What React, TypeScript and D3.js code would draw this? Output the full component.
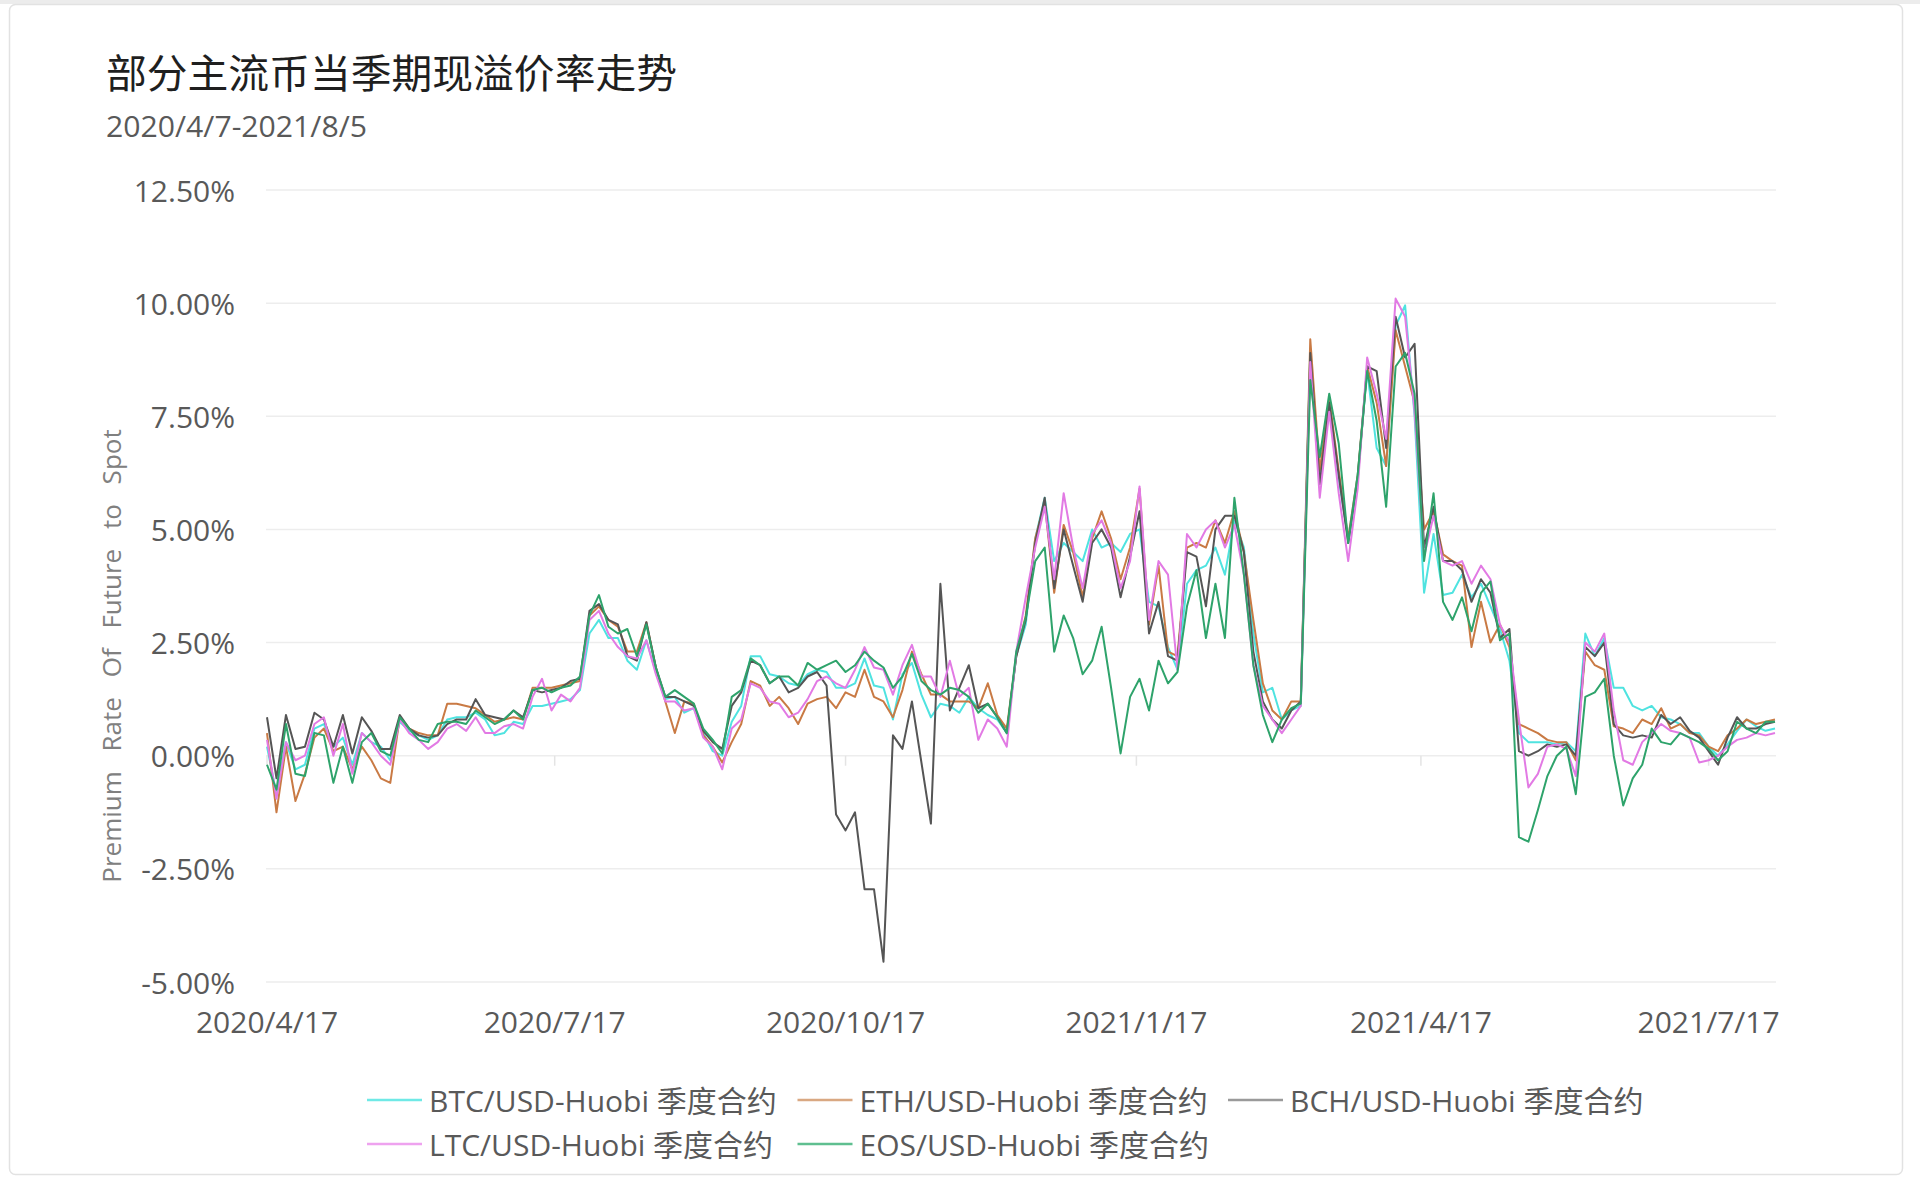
import React from "react";
import * as d3 from "d3";

const TITLE = "部分主流币当季期现溢价率走势";
const SUBTITLE = "2020/4/7-2021/8/5";
const Y_TITLE = "Premium Rate Of Future to Spot";
const START = new Date(2020, 3, 17);
const END = new Date(2021, 7, 7);
const STEP_DAYS = 3;

const yTicks = [-5, -2.5, 0, 2.5, 5, 7.5, 10, 12.5];
const xTickLabels = ["2020/4/17", "2020/7/17", "2020/10/17", "2021/1/17", "2021/4/17", "2021/7/17"];

const seriesNames = [
  "BTC/USD-Huobi 季度合约",
  "ETH/USD-Huobi 季度合约",
  "BCH/USD-Huobi 季度合约",
  "LTC/USD-Huobi 季度合约",
  "EOS/USD-Huobi 季度合约",
];
const seriesColors = ["#4fe3e0", "#c97a44", "#555555", "#e27ae4", "#2ea36b"];
const legendColors = ["#6fe9e6", "#d9a882", "#9a9a9a", "#eea2ef", "#5fbf90"];

// premium rate (%) sampled every 3 days from 2020/4/17
const btc = [
  0.2, -0.85, 0.3, -0.3, -0.2, 0.6, 0.7, 0.2, 0.4, -0.2,
  0.5, 0.3, 0.2, -0.1, 0.75, 0.55, 0.45, 0.35, 0.45, 0.8,
  0.85, 0.85, 0.95, 0.8, 0.45, 0.5, 0.75, 0.7, 1.1, 1.1,
  1.15, 1.2, 1.25, 1.45, 2.7, 3.0, 2.6, 2.6, 2.1, 1.9,
  2.55, 1.85, 1.25, 1.3, 0.95, 1.05, 0.5, 0.1, 0.0, 0.75,
  1.1, 2.2, 2.2, 1.8, 1.75, 1.6, 1.55, 1.8, 1.9, 1.85,
  1.5, 1.5, 1.6, 2.15, 1.55, 1.5, 0.8, 1.8, 2.05, 1.35,
  0.85, 1.15, 1.1, 0.95, 1.3, 1.05, 0.9, 0.8, 0.5, 2.2,
  2.9, 4.8, 5.7, 4.3, 4.7, 4.5, 4.3, 5.0, 4.6, 4.7,
  4.5, 4.9, 5.0, 3.4, 3.3, 2.4, 1.9, 3.8, 4.1, 4.2,
  4.6, 4.0, 5.2, 4.6, 2.7, 1.4, 1.5, 0.8, 1.0, 1.1,
  9.0, 6.1, 7.7, 6.1, 4.8, 6.2, 8.5, 6.8, 6.4, 9.5,
  9.95, 7.5, 3.6, 4.9, 3.55, 3.6, 4.0, 3.5, 3.8, 3.3,
  2.8, 2.1, 0.5, 0.3, 0.3, 0.3, 0.25, 0.3, 0.1, 2.7,
  2.2, 2.6, 1.5, 1.5, 1.1, 1.0, 1.1, 0.85, 0.8, 0.7,
  0.5, 0.5, 0.2, 0.0, 0.25, 0.55, 0.8, 0.65, 0.55, 0.6,
];
const eth = [
  0.5, -1.25, 0.2, -1.0, -0.4, 0.4, 0.6, 0.1, 0.2, -0.3,
  0.2, -0.1, -0.5, -0.6, 0.85, 0.6, 0.5, 0.45, 0.45, 1.15,
  1.15, 1.1, 1.05, 0.9, 0.75, 0.8, 0.85, 0.8, 1.5, 1.5,
  1.5, 1.55, 1.6, 1.65, 3.1, 3.3, 3.0, 2.85, 2.3, 2.3,
  2.95, 1.95, 1.2, 0.5, 1.2, 1.15, 0.45, 0.2, -0.15, 0.3,
  0.7, 1.65, 1.55, 1.1, 1.3, 1.05, 0.7, 1.15, 1.25, 1.3,
  1.05, 1.4, 1.3, 1.9, 1.3, 1.2, 0.85, 1.45, 2.3, 1.8,
  1.35, 1.35, 1.2, 1.2, 1.2, 1.05, 1.6, 0.9, 0.6, 2.2,
  3.1, 4.8, 5.6, 3.6, 5.1, 4.5, 3.5, 4.8, 5.4, 4.8,
  3.9, 4.6, 5.9, 2.9, 4.2, 2.3, 2.2, 4.6, 4.7, 4.6,
  5.2, 4.7, 5.4, 4.5, 3.0, 1.6, 1.0, 0.8, 1.2, 1.2,
  9.2, 6.3, 7.9, 6.3, 4.8, 6.2, 8.6, 7.8, 6.4, 9.4,
  8.6, 7.8, 5.0, 5.4, 4.45, 4.3, 4.2, 2.4, 3.4, 2.5,
  2.9, 2.4, 0.7, 0.6, 0.5, 0.35, 0.3, 0.3, -0.1, 2.3,
  2.0, 1.9, 0.65, 0.6, 0.5, 0.8, 0.7, 1.05, 0.6, 0.7,
  0.5, 0.45, 0.2, 0.1, 0.45, 0.6, 0.8, 0.7, 0.75, 0.8,
];
const bch = [
  0.85, -0.5, 0.9, 0.15, 0.2, 0.95, 0.8, 0.2, 0.9, 0.05,
  0.85, 0.55, 0.15, 0.15, 0.9, 0.6, 0.45, 0.4, 0.45, 0.7,
  0.8, 0.8, 1.25, 0.9, 0.85, 0.8, 1.0, 0.85, 1.45, 1.4,
  1.45, 1.5, 1.65, 1.7, 3.2, 3.35, 3.0, 2.9, 2.2, 2.1,
  2.95, 1.95, 1.3, 1.3, 1.2, 1.1, 0.55, 0.3, 0.15, 1.1,
  1.4, 2.1, 2.0, 1.6, 1.75, 1.4, 1.5, 1.75, 1.85, 1.55,
  -1.3, -1.65, -1.25, -2.95, -2.95, -4.55, 0.45, 0.15, 1.2, -0.15,
  -1.5, 3.8, 1.0, 1.5, 2.0, 1.05, 1.15, 0.85, 0.5, 2.2,
  3.0, 4.7, 5.7, 3.7, 5.0, 4.2, 3.4, 4.7, 5.0, 4.6,
  3.5, 4.4, 5.4, 2.7, 3.4, 2.2, 2.1, 4.5, 4.4, 3.3,
  5.0, 5.3, 5.3, 4.5, 2.3, 1.2, 0.8, 0.6, 1.0, 1.2,
  8.9, 6.0, 7.8, 6.2, 4.7, 6.1, 8.6, 8.5, 6.8, 9.7,
  8.8, 9.1, 4.6, 5.5, 4.3, 4.3, 4.1, 3.4, 3.9, 3.6,
  2.6, 2.8, 0.1, 0.0, 0.1, 0.25, 0.2, 0.25, 0.0, 2.4,
  2.2, 2.5, 0.7, 0.45, 0.4, 0.45, 0.4, 0.9, 0.7, 0.85,
  0.55, 0.4, 0.1, -0.2, 0.4, 0.85, 0.6, 0.6, 0.7, 0.75,
];
const ltc = [
  0.35, -0.95, 0.3, -0.1, 0.0, 0.7, 0.85, 0.0, 0.7, -0.4,
  0.5, 0.3, 0.0, -0.2, 0.8, 0.5, 0.35, 0.15, 0.3, 0.6,
  0.7, 0.55, 0.85, 0.5, 0.5, 0.65, 0.7, 0.6, 1.3, 1.7,
  1.0, 1.35, 1.2, 1.5, 3.0, 3.2, 2.7, 2.4, 2.2, 2.15,
  2.55, 1.8, 1.2, 1.2, 1.0, 1.05, 0.4, 0.2, -0.3, 0.6,
  0.8, 1.6, 1.5, 1.2, 1.15, 0.85, 0.95, 1.25, 1.65, 1.75,
  1.6, 1.5, 1.9, 2.4, 1.95, 1.9, 1.35, 2.0, 2.45, 1.75,
  1.75, 1.3, 2.1, 1.3, 1.5, 0.35, 0.8, 0.6, 0.2, 2.3,
  3.5, 4.6, 5.5, 3.9, 5.8, 4.6, 3.7, 4.9, 5.2, 4.7,
  3.7, 4.3, 5.95, 3.0, 4.3, 4.0, 1.9, 4.9, 4.6, 5.0,
  5.2, 4.6, 5.1, 4.0, 2.0, 1.1, 0.8, 0.5, 0.8, 1.1,
  8.7, 5.7, 7.6, 5.8, 4.3, 5.9, 8.8, 8.0, 7.0, 10.1,
  9.7, 7.6, 4.4, 5.3, 4.3, 4.2, 4.3, 3.8, 4.2, 3.9,
  2.9, 2.5, 0.8, -0.7, -0.4, 0.2, 0.25, 0.15, -0.45, 2.5,
  2.3, 2.7, 1.0, -0.1, -0.2, 0.3, 0.5, 0.7, 0.55, 0.5,
  0.4, -0.15, -0.1, 0.0, 0.2, 0.35, 0.4, 0.5, 0.45, 0.5,
];
const eos = [
  -0.2, -0.75, 0.7, -0.4, -0.45, 0.5, 0.45, -0.6, 0.2, -0.6,
  0.3, 0.5, 0.1, 0.0, 0.85, 0.6, 0.35, 0.3, 0.7, 0.75,
  0.75, 0.7, 1.0, 0.85, 0.7, 0.8, 1.0, 0.8, 1.45, 1.5,
  1.4, 1.5, 1.55, 1.75, 3.1, 3.55, 2.85, 2.7, 2.8, 2.2,
  2.9, 1.95, 1.3, 1.45, 1.3, 1.15, 0.6, 0.35, 0.05, 1.3,
  1.45, 2.15, 2.0, 1.6, 1.75, 1.75, 1.55, 2.05, 1.9, 2.0,
  2.1, 1.85, 2.0, 2.3, 2.1, 1.95, 1.5, 1.75, 2.25, 1.65,
  1.45, 1.35, 1.5, 1.45, 1.3, 0.95, 1.15, 0.85, 0.5, 2.3,
  3.05, 4.3, 4.6, 2.3, 3.1, 2.6, 1.8, 2.1, 2.85, 1.5,
  0.05, 1.3, 1.7, 1.0, 2.1, 1.6, 1.85, 3.3, 4.1, 2.6,
  3.8, 2.6, 5.7, 4.0, 2.0, 0.9, 0.3, 0.8, 1.05, 1.15,
  8.3, 6.6, 8.0, 6.9, 4.7, 6.2, 8.5, 7.4, 5.5, 8.6,
  8.9, 8.0, 4.3, 5.8, 3.4, 3.0, 3.5, 2.75, 3.6, 3.85,
  2.55, 2.7, -1.8, -1.9, -1.2, -0.45, 0.0, 0.2, -0.85, 1.3,
  1.4, 1.7, 0.0, -1.1, -0.5, -0.2, 0.6, 0.3, 0.25, 0.5,
  0.4, 0.3, 0.15, -0.1, 0.1, 0.75, 0.6, 0.5, 0.75, 0.75,
];

const allSeries = [btc, eth, bch, ltc, eos];

const LATIN = "'Open Sans', 'Noto Sans', 'Noto Sans CJK SC', sans-serif";
const CJK = "'Noto Sans CJK SC', 'Open Sans', sans-serif";

function parseLabel(s: string): Date {
  const [yy, mm, dd] = s.split("/").map(Number);
  return new Date(yy, mm - 1, dd);
}

export default function App() {
  const W = 1920;
  const H = 1188;
  const x = d3.scaleTime().domain([START, END]).range([267, 1775]);
  const y = d3.scaleLinear().domain([-5, 12.5]).range([982, 190]);
  const dates = d3.range(btc.length).map((i) => d3.timeDay.offset(START, STEP_DAYS * i));
  const line = d3
    .line<number>()
    .x((_, i) => x(dates[i]))
    .y((d) => y(d));
  const fmt = (v: number) => v.toFixed(2) + "%";

  return (
    <svg
      width={W}
      height={H}
      viewBox={`0 0 ${W} ${H}`}
      style={{ position: "absolute", left: 0, top: 0, display: "block" }}
    >
      <rect x={0} y={0} width={W} height={H} fill="#ffffff" />
      <rect x={0} y={0} width={W} height={4} fill="#ececec" />
      <rect x={9.5} y={4.5} width={1893} height={1170} rx={6} fill="#ffffff" stroke="#e2e2e2" strokeWidth={1.5} />

      <text x={106} y={88} fontFamily={CJK} fontSize={40} fill="#1f1f1f" textLength={571} lengthAdjust="spacingAndGlyphs">
        {TITLE}
      </text>
      <text x={106} y={137} fontFamily={LATIN} fontSize={30} fill="#595959" textLength={261} lengthAdjust="spacingAndGlyphs">
        {SUBTITLE}
      </text>

      {yTicks.map((t) => (
        <g key={"g" + t}>
          <line x1={266} x2={1776} y1={y(t)} y2={y(t)} stroke="#ededed" strokeWidth={1.5} />
          <text
            x={235}
            y={y(t)}
            textAnchor="end"
            dominantBaseline="central"
            fontFamily={LATIN}
            fontSize={30}
            fill="#595959"
          >
            {fmt(t)}
          </text>
        </g>
      ))}

      {xTickLabels.map((s) => {
        const xp = x(parseLabel(s));
        return (
          <g key={s}>
            <line x1={xp} x2={xp} y1={y(0)} y2={y(0) + 10} stroke="#e4e4e4" strokeWidth={1.5} />
            <text x={xp} y={1033} textAnchor="middle" fontFamily={LATIN} fontSize={30} fill="#595959">
              {s}
            </text>
          </g>
        );
      })}

      <text
        transform="translate(121,656) rotate(-90)"
        textAnchor="middle"
        fontFamily={LATIN}
        fontSize={26}
        fill="#808080"
        wordSpacing={13}
      >
        {Y_TITLE}
      </text>

      {allSeries.map((s, k) => (
        <path
          key={"s" + k}
          d={line(s) || ""}
          fill="none"
          stroke={seriesColors[k]}
          strokeWidth={2}
          strokeLinejoin="round"
        />
      ))}

      {seriesNames.map((name, k) => {
        const col = k % 3;
        const row = Math.floor(k / 3);
        const x0 = 367 + col * 430.5;
        const yy = 1100 + row * 44;
        return (
          <g key={"l" + k}>
            <line x1={x0} x2={x0 + 55} y1={yy} y2={yy} stroke={legendColors[k]} strokeWidth={2.5} />
            <text x={x0 + 62} y={yy} dominantBaseline="central" fontFamily={LATIN} fontSize={30} fill="#595959">
              {name}
            </text>
          </g>
        );
      })}
    </svg>
  );
}
